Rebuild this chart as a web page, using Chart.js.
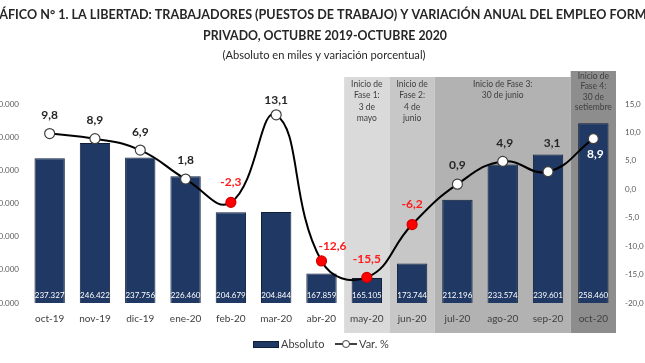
<!DOCTYPE html>
<html>
<head>
<meta charset="utf-8">
<script src="https://cdn.jsdelivr.net/npm/chart.js@4.4.1/dist/chart.umd.min.js"></script>
<style>
  html, body { margin: 0; padding: 0; background: #fff; }
  canvas { display: block; }
</style>
</head>
<body>
<canvas id="chart" width="645" height="363"></canvas>
<script>
// data
const months = ['oct-19', 'nov-19', 'dic-19', 'ene-20', 'feb-20', 'mar-20', 'abr-20',
  'may-20', 'jun-20', 'jul-20', 'ago-20', 'sep-20', 'oct-20'];
const absoluto = [237327, 246422, 237756, 226460, 204679, 204844, 167859,
  165105, 173744, 212196, 233574, 239601, 258460];
const variacion = [9.8, 8.9, 6.9, 1.8, -2.3, 13.1, -12.6, -15.5, -6.2, 0.9, 4.9, 3.1, 8.9];

// phase bands: first / last month index, label lines
const phases = [
  { from: 7, to: 7, lines: ['Inicio de', 'Fase 1:', '3 de', 'mayo'] },
  { from: 8, to: 8, lines: ['Inicio de', 'Fase 2:', '4 de', 'junio'] },
  { from: 9, to: 11, lines: ['Inicio de Fase 3:', '30 de junio'] },
  { from: 12, to: 12, lines: ['Inicio de', 'Fase 4:', '30 de', 'setiembre'] },
];
const phaseFill = ['#dadada', '#c7c7c7', '#b2b2b2', '#8d8d8d'];
const phaseTop = [77, 77, 77, 71];

// where each % label sits relative to its point [dx, dy]
const labelOffsets = [[0, -18], [0, -19], [0, -18], [0, -19], [0, -20], [0, -15], [11, -15],
  [0, -18], [0, -20], [0, -19], [2, -18], [4, -29], [2, 15]];

const NAVY = '#1f3864';
const FONT = 'Lato, "Open Sans", sans-serif';

const fmtMiles = v => String(v).replace(/\B(?=(\d{3})+(?!\d))/g, '.');
const fmtPct = v => v.toFixed(1).replace('.', ',');

function stretchText(ctx, text, cx, cy, target) {
  const w = ctx.measureText(text).width;
  ctx.save();
  ctx.translate(cx, cy);
  ctx.scale(target / w, 1);
  ctx.fillText(text, 0, 0);
  ctx.restore();
}

const decorPlugin = {
  id: 'decor',
  beforeDraw(chart) {
    const { ctx, scales: { x } } = chart;
    const half = (x.getPixelForValue(1) - x.getPixelForValue(0)) / 2;
    ctx.save();
    phases.forEach((p, i) => {
      const x0 = x.getPixelForValue(p.from) - half;
      const x1 = x.getPixelForValue(p.to) + half;
      ctx.fillStyle = phaseFill[i];
      ctx.fillRect(x0, phaseTop[i], x1 - x0, 333 - phaseTop[i]);
      ctx.fillStyle = '#404040';
      ctx.font = '8.5px ' + FONT;
      ctx.textAlign = 'center';
      ctx.textBaseline = 'middle';
      const startY = i === 3 ? 76 : 84;
      const step = i === 3 ? 10.5 : 11.5;
      p.lines.forEach((t, k) => ctx.fillText(t, (x0 + x1) / 2, startY + k * step));
    });
    ctx.restore();
  },
  afterDatasetsDraw(chart) {
    const { ctx, chartArea } = chart;
    ctx.save();
    ctx.textAlign = 'center';
    ctx.textBaseline = 'middle';
    // bar values
    const barMeta = chart.getDatasetMeta(0);
    ctx.font = '8px ' + FONT;
    ctx.fillStyle = '#ffffff';
    barMeta.data.forEach((el, i) => {
      ctx.fillText(fmtMiles(absoluto[i]), el.x, chartArea.bottom - 8);
    });
    // line values
    const lineMeta = chart.getDatasetMeta(1);
    ctx.font = 'bold 12px ' + FONT;
    lineMeta.data.forEach((el, i) => {
      const v = variacion[i];
      const [dx, dy] = labelOffsets[i];
      if (i === variacion.length - 1) ctx.fillStyle = '#ffffff';
      else ctx.fillStyle = v < 0 ? '#ff1a1a' : '#262626';
      ctx.fillText(fmtPct(v), el.x + dx, el.y + dy);
    });
    ctx.restore();
  },
  afterDraw(chart) {
    const { ctx } = chart;
    ctx.save();
    ctx.fillStyle = '#262626';
    ctx.textAlign = 'center';
    ctx.textBaseline = 'middle';
    ctx.font = 'bold 13px ' + FONT;
    stretchText(ctx, 'GRÁFICO N° 1. LA LIBERTAD: TRABAJADORES (PUESTOS DE TRABAJO) Y VARIACIÓN ANUAL DEL EMPLEO FORMAL', 322, 15, 680);
    stretchText(ctx, 'PRIVADO, OCTUBRE 2019-OCTUBRE 2020', 325, 36, 244);
    ctx.font = '11px ' + FONT;
    stretchText(ctx, '(Absoluto en miles y variación porcentual)', 324, 55, 203);

    // legend
    ctx.fillStyle = NAVY;
    ctx.fillRect(253, 341, 26, 7);
    ctx.strokeStyle = '#0f1f3a';
    ctx.lineWidth = 1;
    ctx.strokeRect(253.5, 341.5, 25, 6);
    ctx.fillStyle = '#404040';
    ctx.font = '11px ' + FONT;
    ctx.textAlign = 'left';
    ctx.fillText('Absoluto', 281, 344);
    ctx.strokeStyle = '#000';
    ctx.lineWidth = 1.5;
    ctx.beginPath();
    ctx.moveTo(335, 344);
    ctx.lineTo(357, 344);
    ctx.stroke();
    ctx.beginPath();
    ctx.arc(346, 344, 3.5, 0, Math.PI * 2);
    ctx.fillStyle = '#fff';
    ctx.fill();
    ctx.strokeStyle = '#404040';
    ctx.lineWidth = 1;
    ctx.stroke();
    ctx.fillStyle = '#404040';
    ctx.fillText('Var. %', 359, 344);
    ctx.restore();
  }
};

new Chart(document.getElementById('chart'), {
  data: {
    labels: months,
    datasets: [
      {
        type: 'bar',
        label: 'Absoluto',
        data: absoluto,
        yAxisID: 'y',
        backgroundColor: NAVY,
        borderColor: '#0f1f3a',
        borderWidth: 1,
        barPercentage: 0.67,
        categoryPercentage: 1,
        order: 1,
      },
      {
        type: 'line',
        label: 'Var. %',
        data: variacion,
        yAxisID: 'y1',
        borderColor: '#000',
        borderWidth: 2,
        tension: 0.45,
        pointRadius: 5,
        pointBorderWidth: 1.2,
        pointBackgroundColor: variacion.map(v => v < 0 ? '#ff0000' : '#ffffff'),
        pointBorderColor: variacion.map(v => v < 0 ? '#d00000' : '#404040'),
        order: 0,
      },
    ],
  },
  options: {
    responsive: false,
    animation: false,
    layout: { padding: { top: 104, bottom: 30, left: 0, right: 0 } },
    plugins: {
      legend: { display: false },
      tooltip: { enabled: false },
    },
    scales: {
      x: {
        grid: { display: false, drawTicks: false },
        border: { display: false },
        ticks: { color: '#404040', font: { family: FONT, size: 10 }, padding: 10, maxRotation: 0, autoSkip: false },
        afterFit(s) { s.height = 30; },
      },
      y: {
        position: 'left',
        min: 150000,
        max: 270000,
        grid: { display: false, drawTicks: false },
        border: { display: false },
        ticks: { stepSize: 20000, color: '#595959', font: { family: FONT, size: 8 }, padding: 8, callback: v => fmtMiles(v) },
        afterFit(s) { s.width = 27; },
      },
      y1: {
        position: 'right',
        min: -20,
        max: 15,
        grid: { display: false, drawTicks: false },
        border: { display: false },
        ticks: { stepSize: 5, color: '#595959', font: { family: FONT, size: 8 }, padding: 9, callback: v => fmtPct(v) },
        afterFit(s) { s.width = 29; },
      },
    },
  },
  plugins: [decorPlugin],
});
</script>
</body>
</html>
